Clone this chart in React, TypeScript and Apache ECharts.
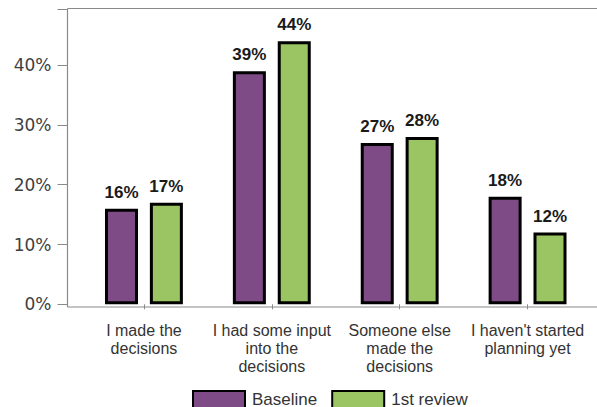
import React, { useEffect, useRef } from "react";
import * as echarts from "echarts";

const categories = [
  "I made the\ndecisions",
  "I had some input\ninto the\ndecisions",
  "Someone else\nmade the\ndecisions",
  "I haven't started\nplanning yet",
];
const baseline = [16, 39, 27, 18];
const firstReview = [17, 44, 28, 12];
const seriesNames = ["Baseline", "1st review"];
const yTicks = [0, 10, 20, 30, 40];

export default function App() {
  const ref = useRef<HTMLDivElement>(null);
  useEffect(() => {
    const chart = echarts.init(ref.current!, null, { renderer: "svg" });
    const labelStyle = {
      show: true,
      position: "top" as const,
      distance: 8,
      formatter: "{c}%",
      fontFamily: "Liberation Sans",
      fontWeight: "bold" as const,
      fontSize: 17,
      color: "#1a1a1a",
    };
    chart.setOption({
      animation: false,
      backgroundColor: "#ffffff",
      grid: { left: 80, right: 5.5, top: 9, bottom: 102.7 },
      legend: {
        left: 192,
        top: 390,
        padding: 0,
        itemWidth: 52,
        itemHeight: 17,
        itemGap: 14,
        icon: "rect",
        formatter: "{t|{name}}",
        textStyle: {
          fontFamily: "Liberation Sans",
          fontSize: 17,
          color: "#333333",
          rich: {
            t: {
              fontFamily: "Liberation Sans",
              fontSize: 17,
              lineHeight: 16,
              color: "#333333",
              padding: [0, 0, 0, 2],
            },
          },
        },
        data: seriesNames,
      },
      graphic: [
        {
          type: "line",
          shape: { x1: 67.5, y1: 8.5, x2: 597, y2: 8.5 },
          style: { stroke: "#8a8a8a", lineWidth: 1.2 },
          silent: true,
        },
        {
          type: "line",
          shape: { x1: 67.5, y1: 304.3, x2: 67.5, y2: 307 },
          style: { stroke: "#8a8a8a", lineWidth: 1.2 },
          silent: true,
        },
        {
          type: "line",
          shape: { x1: 67.5, y1: 307, x2: 597, y2: 307 },
          style: { stroke: "#8a8a8a", lineWidth: 1.2 },
          silent: true,
        },
      ],
      xAxis: {
        type: "category",
        data: categories,
        offset: 2.7,
        axisLine: { show: false },
        axisTick: {
          show: true,
          alignWithLabel: true,
          length: 5,
          lineStyle: { color: "#8a8a8a" },
        },
        axisLabel: {
          interval: 0,
          margin: 14,
          fontFamily: "Liberation Sans",
          fontSize: 16,
          lineHeight: 18,
          color: "#333333",
        },
      },
      yAxis: {
        type: "value",
        min: yTicks[0],
        max: 49.4,
        interval: 10,
        offset: 12.5,
        splitLine: { show: false },
        axisLine: { show: true, lineStyle: { color: "#8a8a8a", width: 1.2 } },
        axisTick: { show: true, length: 10, lineStyle: { color: "#8a8a8a" } },
        axisLabel: {
          margin: 16,
          fontFamily: "DejaVu Sans",
          fontSize: 17,
          color: "#404040",
          formatter: (v: number) => (yTicks.includes(v) ? `${v}%` : ""),
        },
      },
      series: [
        {
          name: seriesNames[0],
          type: "bar",
          data: baseline,
          barWidth: 33,
          barGap: "36%",
          itemStyle: { color: "#7e4b86", borderColor: "#000000", borderWidth: 3 },
          label: labelStyle,
        },
        {
          name: seriesNames[1],
          type: "bar",
          data: firstReview,
          barWidth: 33,
          barGap: "36%",
          itemStyle: { color: "#9bc463", borderColor: "#000000", borderWidth: 3 },
          label: labelStyle,
        },
      ],
    });
    return () => chart.dispose();
  }, []);
  return <div ref={ref} style={{ width: 597, height: 407, position: "fixed", left: 0, top: 0 }} />;
}
